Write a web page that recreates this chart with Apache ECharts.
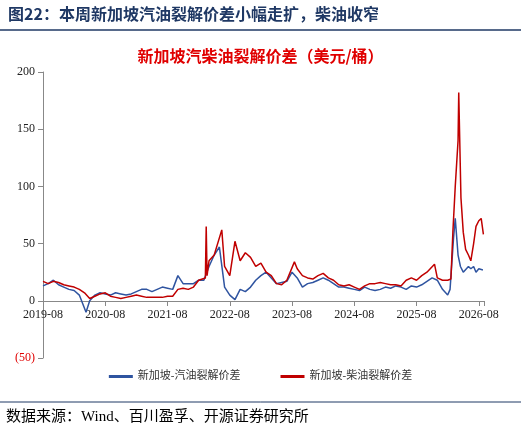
<!DOCTYPE html><html><head><meta charset="utf-8"><script src="https://cdn.jsdelivr.net/npm/echarts@6/dist/echarts.min.js"></script>
<style>body{margin:0}#c{width:521px;height:437px}</style></head><body><div id="c"></div><script>
const xTickLabels=['2019-08','2020-08','2021-08','2022-08','2023-08','2024-08','2025-08','2026-08'];
const gasoline=[['2019-08-01',13],['2019-09-01',15],['2019-10-01',18],['2019-11-01',14],['2019-12-01',12],['2020-01-01',10],['2020-02-01',9],['2020-03-01',5],['2020-04-10',-10],['2020-05-01',0],['2020-06-01',5],['2020-07-01',7],['2020-08-01',6],['2020-09-01',5],['2020-10-01',7],['2020-11-01',6],['2020-12-01',5],['2021-01-01',6],['2021-02-01',8],['2021-03-01',10],['2021-04-01',10],['2021-05-01',8],['2021-06-01',10],['2021-07-01',12],['2021-08-01',11],['2021-09-01',10],['2021-10-01',22],['2021-11-01',15],['2021-12-01',15],['2022-01-01',15],['2022-02-01',18],['2022-03-01',18],['2022-04-01',30],['2022-05-01',40],['2022-06-01',47],['2022-07-01',12],['2022-08-01',5],['2022-09-01',1],['2022-10-01',10],['2022-11-01',8],['2022-12-01',12],['2023-01-01',18],['2023-02-01',22],['2023-03-01',25],['2023-04-01',20],['2023-05-01',15],['2023-06-01',16],['2023-07-01',17],['2023-08-01',25],['2023-09-01',20],['2023-10-01',12],['2023-11-01',15],['2023-12-01',16],['2024-01-01',18],['2024-02-01',20],['2024-03-01',18],['2024-04-01',15],['2024-05-01',12],['2024-06-01',12],['2024-07-01',11],['2024-08-01',10],['2024-09-01',9],['2024-10-01',12],['2024-11-01',10],['2024-12-01',9],['2025-01-01',10],['2025-02-01',12],['2025-03-01',11],['2025-04-01',13],['2025-05-01',12],['2025-06-01',10],['2025-07-01',13],['2025-08-01',12],['2025-09-01',14],['2025-10-01',17],['2025-11-01',20],['2025-12-01',18],['2026-01-01',10],['2026-02-01',5],['2026-02-15',10],['2026-03-05',55],['2026-03-15',72],['2026-04-01',40],['2026-04-15',30],['2026-05-01',25],['2026-06-01',30],['2026-06-15',28],['2026-07-01',30],['2026-07-15',25],['2026-08-01',28],['2026-08-25',27]];
const diesel=[['2019-08-01',17],['2019-09-01',15],['2019-10-01',17],['2019-11-01',16],['2019-12-01',14],['2020-01-01',13],['2020-02-01',12],['2020-03-01',10],['2020-04-01',7],['2020-05-01',2],['2020-06-01',4],['2020-07-01',6],['2020-08-01',7],['2020-09-01',4],['2020-10-01',3],['2020-11-01',2],['2020-12-01',3],['2021-01-01',4],['2021-02-01',5],['2021-03-01',4],['2021-04-01',3],['2021-05-01',3],['2021-06-01',3],['2021-07-01',3],['2021-08-01',4],['2021-09-01',4],['2021-10-01',10],['2021-11-01',11],['2021-12-01',10],['2022-01-01',12],['2022-02-01',18],['2022-03-10',20],['2022-03-15',65],['2022-03-20',22],['2022-04-01',35],['2022-05-01',40],['2022-06-15',62],['2022-07-01',30],['2022-08-01',22],['2022-09-01',52],['2022-10-01',35],['2022-11-01',42],['2022-12-01',38],['2023-01-01',30],['2023-02-01',33],['2023-03-01',25],['2023-04-01',22],['2023-05-01',15],['2023-06-01',14],['2023-07-01',18],['2023-08-15',34],['2023-09-01',28],['2023-10-01',22],['2023-11-01',20],['2023-12-01',19],['2024-01-01',22],['2024-02-01',24],['2024-03-01',20],['2024-04-01',18],['2024-05-01',14],['2024-06-01',13],['2024-07-01',14],['2024-08-01',12],['2024-09-01',10],['2024-10-01',13],['2024-11-01',15],['2024-12-01',15],['2025-01-01',16],['2025-02-01',15],['2025-03-01',14],['2025-04-01',14],['2025-05-01',13],['2025-06-01',18],['2025-07-01',20],['2025-08-01',18],['2025-09-01',22],['2025-10-01',25],['2025-11-15',32],['2025-12-01',20],['2026-01-01',18],['2026-02-01',18],['2026-02-20',19],['2026-03-01',60],['2026-03-15',100],['2026-04-01',140],['2026-04-05',182],['2026-04-18',90],['2026-05-01',60],['2026-05-15',45],['2026-06-01',40],['2026-06-15',35],['2026-07-01',50],['2026-07-15',65],['2026-08-01',70],['2026-08-15',72],['2026-08-28',58]];
function toM(d){const p=d.split('-').map(Number);return (p[0]-2019)*12+(p[1]-8)+(p[2]-1)/30.5;}
const conv=a=>a.map(([d,v])=>[toM(d),v]);
const serif='"Liberation Serif","Noto Sans CJK SC",serif';
const chart=echarts.init(document.getElementById('c'));
chart.setOption({
 animation:false,
 graphic:[
  {type:'text',left:8,top:6,style:{text:'图22：本周新加坡汽油裂解价差小幅走扩，柴油收窄',font:'bold 16px "Noto Sans CJK SC"',fill:'#1f3864'}},
  {type:'line',shape:{x1:0,y1:30,x2:521,y2:30},style:{stroke:'#1f3864',lineWidth:1.5}},
  {type:'text',left:'center',top:48,style:{text:'新加坡汽柴油裂解价差（美元/桶）',font:'bold 16px "Noto Sans CJK SC"',fill:'#e00000'}},
  {type:'line',shape:{x1:0,y1:402,x2:521,y2:402},style:{stroke:'#1f3864',lineWidth:1}},
  {type:'text',left:6,top:410,style:{text:'数据来源：Wind、百川盈孚、开源证券研究所',font:'15px '+serif,fill:'#000'}}
 ],
 legend:{bottom:50,itemWidth:24,itemHeight:3,icon:'rect',itemGap:40,textStyle:{fontFamily:serif,fontSize:11,color:'#333'}},
 grid:{left:43,right:37,top:72,bottom:79},
 xAxis:{type:'value',min:0,max:85,interval:12,offset:-57,
  axisLine:{onZero:false,lineStyle:{color:'#888'}},axisTick:{show:true,lineStyle:{color:'#888'}},splitLine:{show:false},
  axisLabel:{fontFamily:serif,fontSize:12,color:'#222',formatter:v=>xTickLabels[v/12]||''}},
 yAxis:{type:'value',min:-50,max:200,interval:50,
  axisLine:{show:true,lineStyle:{color:'#888'}},axisTick:{show:true,inside:false,lineStyle:{color:'#888'}},splitLine:{show:false},
  axisLabel:{fontFamily:serif,fontSize:12,color:'#222',formatter:v=>v<0?'{r|('+(-v)+')}':v,rich:{r:{color:'#e00000',fontFamily:serif,fontSize:12}}}},
 series:[
  {name:'新加坡-汽油裂解价差',type:'line',data:conv(gasoline),showSymbol:false,lineStyle:{color:'#2f54a0',width:1.5},itemStyle:{color:'#2f54a0'}},
  {name:'新加坡-柴油裂解价差',type:'line',data:conv(diesel),showSymbol:false,lineStyle:{color:'#c00000',width:1.5},itemStyle:{color:'#c00000'}}
 ]
});
</script></body></html>
